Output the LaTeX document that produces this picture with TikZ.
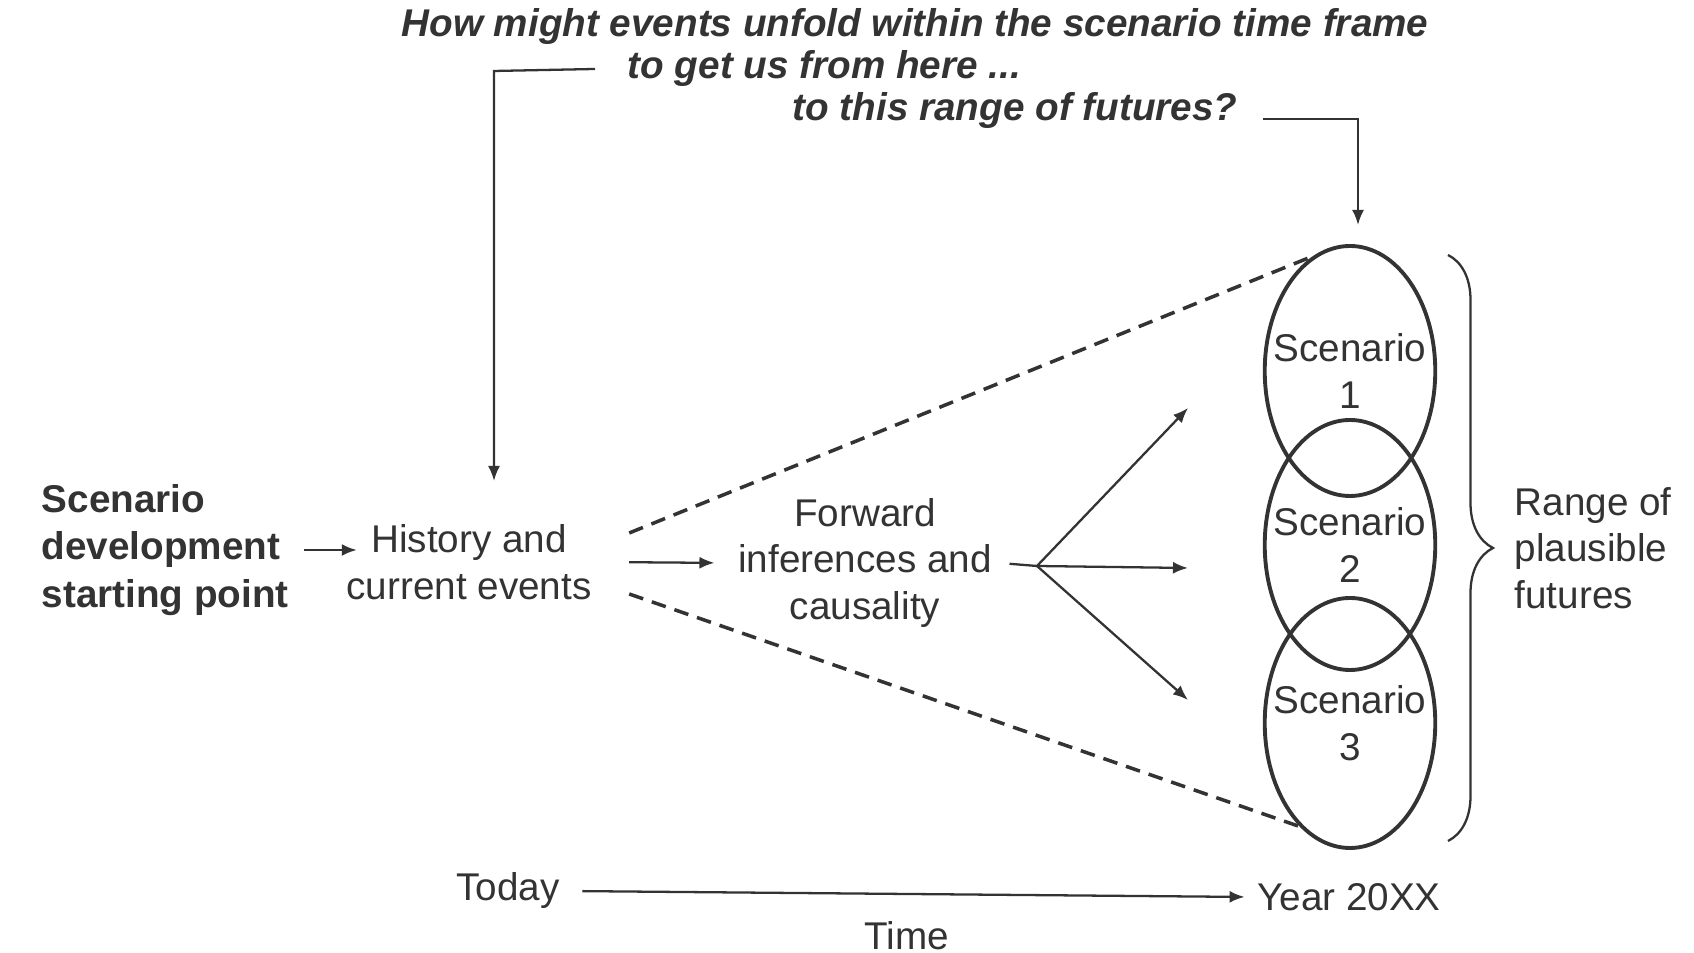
\documentclass[tikz,border=0pt]{standalone}
\usepackage{fontspec}
\setmainfont{Liberation Sans}
\usepackage{tikz}
\usetikzlibrary{shapes.geometric, positioning, arrows.meta, decorations.pathreplacing, calc}

\begin{document}
\begin{tikzpicture}[
  every node/.style={font=\fontsize{11}{13.2}\selectfont, text=black!80},
  txt/.style={align=center, inner sep=2pt},
  lefttxt/.style={align=left, inner sep=2pt},
  ask/.style={font=\fontsize{11}{13}\selectfont\bfseries\itshape, inner sep=2pt},
  scen/.style={
    ellipse, draw=black!80, line width=1.1pt,
    minimum width=1.68cm, minimum height=2.5cm,
    inner xsep=-1.6mm, inner ysep=0pt, align=center,
  },
  arr/.style={-{Latex[length=1.5mm,width=1.2mm]}, line width=0.65pt, draw=black!80},
  fut/.style={line width=1pt, draw=black!80, dash pattern=on 4.2pt off 2.6pt},
]

\path[use as bounding box, fill=white] (0,0) rectangle (16.94,9.53);

% ---- Question on top ----
\node[ask] (ask1) at (9.15, 9.26) {How might events unfold within the scenario time frame};
\node[ask, anchor=west] (here) at (6.20, 8.84) {to get us from here ...};
\node[ask, anchor=west] (range) at (7.85, 8.42) {to this range of futures?};

% ---- Main chain ----
\node[lefttxt, anchor=west, font=\fontsize{11}{13.6}\selectfont\bfseries] (start) at (0.34, 4.03)
  {Scenario\\development\\starting point};
\node[txt] (hist) at (4.69, 3.91) {History and\\current events};
\node[txt] (fwd) at (8.65, 3.90) {Forward\\inferences and\\causality};

% ---- Scenarios ----
\node[scen] (sc1) at (13.50, 5.82) {Scenario\\1};
\node[scen] (sc2) at (13.50, 4.08) {Scenario\\2};
\node[scen] (sc3) at (13.50, 2.30) {Scenario\\3};

\node[lefttxt, anchor=west] (plaus) at (15.07, 4.05) {Range of\\plausible\\futures};

% ---- Time axis ----
\node[txt] (today) at (5.08, 0.62) {Today};
\node[txt] (year) at (13.49, 0.56) {Year 20XX};
\node[txt] (time) at (9.07, 0.17) {Time};

% ---- Bracket arrows from the question ----
\coordinate (hereC) at (4.94, 8.82);
\coordinate (hereT) at (4.94, 4.72);
\draw[arr] ([xshift=-2.5mm]here.west) -- (hereC) -- (hereT);

\coordinate (rangeC) at (13.58, 8.34);
\coordinate (rangeT) at (13.58, 7.28);
\draw[arr] ([xshift=1.8mm]range.east |- rangeC) -- (rangeC) -- (rangeT);

% ---- Chain arrows ----
\draw[arr, shorten <=0.8mm] (start.east) -- ([xshift=1.8mm]start.east -| hist.west);
\draw[arr, shorten <=3mm, shorten >=1.6mm] (hist.east) -- (fwd.west);

% fork towards the scenarios
\coordinate (fork) at (10.37, 3.87);
\coordinate (up) at (11.88, 5.45);
\coordinate (mid) at (11.88, 3.85);
\coordinate (low) at (11.88, 2.53);
\draw[line width=0.65pt, draw=black!80, shorten <=1mm] (fwd.east) -- (fork);
\draw[arr] (fork) -- (up);
\draw[arr] (fork) -- (mid);
\draw[arr] (fork) -- (low);

% ---- Cone of futures (dashed) ----
\draw[fut] ([shift={(0.30,0.29)}]hist.east) -- (sc1.108);
\draw[fut] ([shift={(0.30,-0.32)}]hist.east) -- (sc3.244);

% ---- Brace ----
\draw[line width=0.65pt, draw=black!80, decorate, decoration={brace, amplitude=4.5mm}]
  (14.48, 6.98) -- (14.48, 1.12);

% ---- Time arrow ----
\draw[arr, shorten <=1.5mm, shorten >=0.5mm] (today.east) -- (year.west);

\end{tikzpicture}
\end{document}
